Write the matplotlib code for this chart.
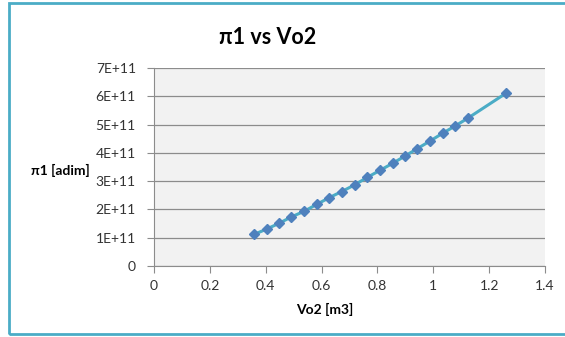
import matplotlib.pyplot as plt
from matplotlib.patches import Rectangle
from matplotlib.ticker import FuncFormatter

plt.rcParams['font.family'] = ['Lato', 'DejaVu Sans']

# data
vo2 = [0.358, 0.403, 0.447, 0.491, 0.537, 0.583, 0.628, 0.672, 0.719, 0.763,
       0.809, 0.854, 0.899, 0.943, 0.989, 1.034, 1.079, 1.126, 1.262]
pi1 = [1.114e11, 1.306e11, 1.505e11, 1.733e11, 1.932e11, 2.181e11, 2.420e11,
       2.633e11, 2.872e11, 3.132e11, 3.381e11, 3.630e11, 3.890e11, 4.153e11,
       4.423e11, 4.698e11, 4.957e11, 5.242e11, 6.121e11]
x_ticks = [0, 0.2, 0.4, 0.6, 0.8, 1, 1.2, 1.4]
y_ticks = [0, 1e11, 2e11, 3e11, 4e11, 5e11, 6e11, 7e11]

fig = plt.figure(figsize=(5.65, 3.37), dpi=100)
ax = fig.add_axes([0.2726, 0.2107, 0.692, 0.5873])

# outer chart frame (right edge runs off the picture)
fig.patches.append(Rectangle((9 / 565, 3 / 337), 1.0, 331 / 337, transform=fig.transFigure,
                             fill=False, edgecolor='#4BACC6', linewidth=2))

ax.set_facecolor('#F2F2F2')
ax.plot(vo2, pi1, color='#4BACC6', linewidth=2.2, zorder=3)
ax.plot(vo2, pi1, linestyle='none', marker='D', markersize=5.5,
        color='#4F81BD', zorder=4)

ax.set_xlim(0, 1.4)
ax.set_ylim(0, 7e11)
ax.set_xticks(x_ticks)
ax.set_yticks(y_ticks)
ax.xaxis.set_major_formatter(FuncFormatter(lambda v, p: f"{v:g}"))
ax.yaxis.set_major_formatter(
    FuncFormatter(lambda v, p: "0" if v == 0 else f"{int(round(v / 1e11))}E+11"))

ax.yaxis.grid(True, color='#8C8C8C', linewidth=0.9)
ax.set_axisbelow(True)
for s in ['top', 'right']:
    ax.spines[s].set_visible(False)
for s in ['left', 'bottom']:
    ax.spines[s].set_color('#8C8C8C')
ax.tick_params(colors='#8C8C8C', labelcolor='#333333', labelsize=10, length=5)
ax.tick_params(axis='y', pad=8)
ax.tick_params(axis='x', pad=5)

fig.text(268 / 565, 1 - 37 / 337, "π1 vs Vo2", ha='center', va='center',
         fontsize=15.5, fontweight='bold')
fig.text(60 / 565, 1 - 170 / 337, "π1 [adim]", ha='center', va='center',
         fontsize=10, fontweight='bold')
fig.text(325 / 565, 1 - 309 / 337, "Vo2 [m3]", ha='center', va='center',
         fontsize=10, fontweight='bold')

fig.savefig("out.png", dpi=100)
